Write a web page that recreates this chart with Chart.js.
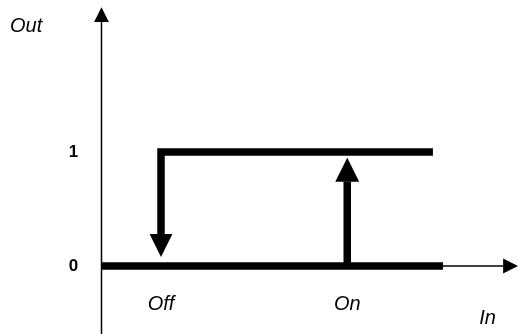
<!DOCTYPE html>
<html>
<head>
<meta charset="utf-8">
<script src="https://cdn.jsdelivr.net/npm/chart.js@4/dist/chart.umd.min.js"></script>
<style>
  html, body { margin: 0; padding: 0; background: #fff; }
  #wrap { width: 518px; height: 334px; }
</style>
</head>
<body>
<div id="wrap"><canvas id="hystChart" width="518" height="334"></canvas></div>
<script>
// switching thresholds on the In axis
const switchIn = [1.0, 4.13];
const switchLabels = ["Off", "On"];
// output levels
const outLevels = [0, 1];
const outLabels = ["0", "1"];
// where the two branches stop on the In axis
const lowBranchEnd = 5.74;
const highBranchEnd = 5.57;
// arrows: [base, tip] on the Out axis
const offArrow = [0.28, 0.08];
const onArrow = [0.74, 0.95];
// axes: [start, head base, tip]
const inAxis = [0, 6.75, 7.0];
const outAxis = [-0.6, 2.14, 2.27];
const axisTitles = ["In", "Out"];

// visible window
const xRange = [-1.706, 7.0];
const yRange = [-0.596, 2.333];

const pt = (x, y) => ({ x: x, y: y });

const thin = { borderColor: "#000", borderWidth: 1.5 };
const thick = { borderColor: "#000", borderWidth: 7.5, borderJoinStyle: "miter" };

const datasets = [
    Object.assign({ data: [pt(inAxis[0], 0), pt(inAxis[1], 0)] }, thin),
    Object.assign({ data: [pt(0, outAxis[0]), pt(0, outAxis[1])] }, thin),
    Object.assign({ data: [pt(0, outLevels[0]), pt(lowBranchEnd, outLevels[0])] }, thick),
    Object.assign({
        data: [pt(highBranchEnd, outLevels[1]), pt(switchIn[0], outLevels[1]), pt(switchIn[0], offArrow[0])]
    }, thick),
    Object.assign({ data: [pt(switchIn[1], outLevels[0]), pt(switchIn[1], onArrow[0])] }, thick),
];

// arrow heads + labels, placed through the scales
const decorations = {
    id: "decorations",
    afterDatasetsDraw(chart) {
        const ctx = chart.ctx;
        const xs = chart.scales.x;
        const ys = chart.scales.y;

        const vHead = (xv, base, tip) => {
            const px = xs.getPixelForValue(xv);
            const b = ys.getPixelForValue(base);
            const t = ys.getPixelForValue(tip);
            const hw = Math.abs(t - b) / 2;
            ctx.beginPath();
            ctx.moveTo(px - hw, b);
            ctx.lineTo(px + hw, b);
            ctx.lineTo(px, t);
            ctx.closePath();
            ctx.fill();
        };
        const hHead = (yv, base, tip) => {
            const py = ys.getPixelForValue(yv);
            const b = xs.getPixelForValue(base);
            const t = xs.getPixelForValue(tip);
            const hh = Math.abs(t - b) / 2;
            ctx.beginPath();
            ctx.moveTo(b, py - hh);
            ctx.lineTo(b, py + hh);
            ctx.lineTo(t, py);
            ctx.closePath();
            ctx.fill();
        };

        ctx.save();
        ctx.fillStyle = "#000";
        vHead(switchIn[0], offArrow[0], offArrow[1]);
        vHead(switchIn[1], onArrow[0], onArrow[1]);
        vHead(0, outAxis[1], outAxis[2]);
        hHead(0, inAxis[1], inAxis[2]);

        const x0 = xs.getPixelForValue(0);
        const y0 = ys.getPixelForValue(0);

        ctx.textAlign = "center";
        ctx.textBaseline = "middle";
        ctx.font = "bold 17px 'Liberation Sans', Arial, sans-serif";
        outLevels.forEach((v, i) => {
            ctx.fillText(outLabels[i], x0 - 28, ys.getPixelForValue(v));
        });

        ctx.font = "italic 20px 'Liberation Sans', Arial, sans-serif";
        switchIn.forEach((v, i) => {
            ctx.fillText(switchLabels[i], xs.getPixelForValue(v), y0 + 38);
        });

        ctx.fillText(axisTitles[0], x0 + 386, y0 + 52);
        ctx.textAlign = "left";
        ctx.fillText(axisTitles[1], 10, ys.getPixelForValue(outAxis[2]) + 19);
        ctx.restore();
    }
};

new Chart(document.getElementById("hystChart"), {
    type: "scatter",
    data: { datasets: datasets },
    options: {
        responsive: false,
        animation: false,
        showLine: true,
        layout: { padding: 0 },
        elements: { point: { radius: 0 }, line: { tension: 0, borderCapStyle: "butt" } },
        plugins: { legend: { display: false }, tooltip: { enabled: false } },
        scales: {
            x: { type: "linear", min: xRange[0], max: xRange[1], display: false },
            y: { type: "linear", min: yRange[0], max: yRange[1], display: false }
        }
    },
    plugins: [decorations]
});
</script>
</body>
</html>
